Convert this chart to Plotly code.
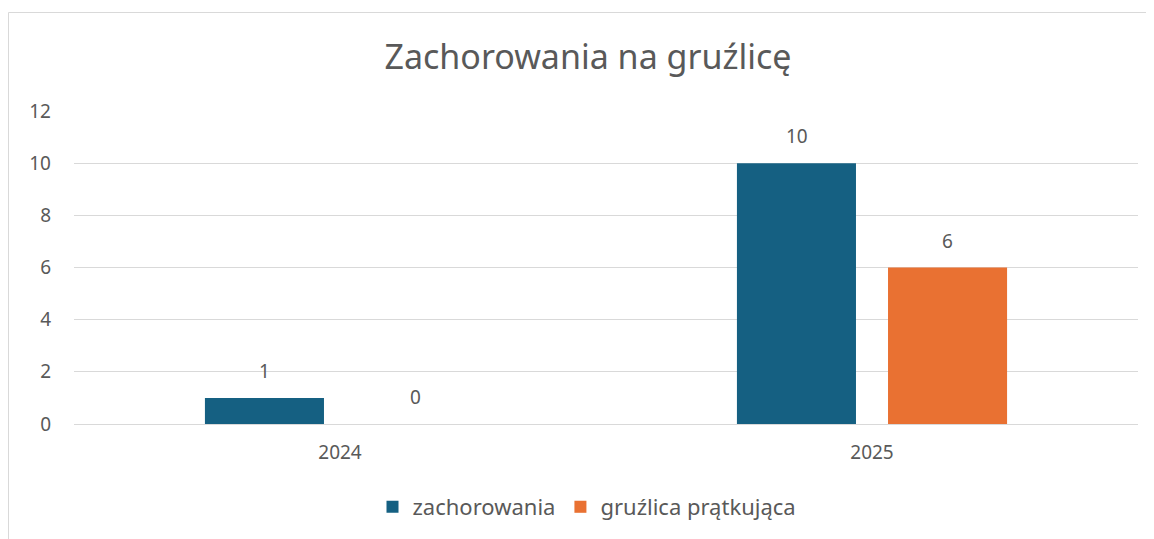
import plotly.graph_objects as go

categories = ["2024", "2025"]
zachorowania = [1, 10]
pratkujaca = [0, 6]
series_names = ["zachorowania", "gruźlica prątkująca"]
colors = ["#156082", "#E97132"]
y_ticks = [0, 2, 4, 6, 8, 10, 12]

# page has an 8px body margin, so the figure is drawn at (8, 8)
OFF = 8
W, H = 1154 - OFF, 539 - OFF
ML, MR, MT, MB = 74 - OFF, W - (1138 - OFF), 111 - OFF, H - (424 - OFF)
TXT = "#595959"
FONT = "Noto Sans"

fig = go.Figure()
for name, vals, col in zip(series_names, [zachorowania, pratkujaca], colors):
    fig.add_trace(go.Bar(x=categories, y=vals, name=name, marker_color=col,
                         marker_line_width=0, hoverinfo="skip"))

# data labels (x given as category index on the category axis)
shift = 75.5
for vals, xs in [(zachorowania, -shift), (pratkujaca, shift)]:
    for i, v in enumerate(vals):
        fig.add_annotation(x=i, y=v, text=str(v), showarrow=False, xshift=xs, yshift=27,
                           font=dict(family=FONT, size=19, color=TXT))

pw = W - ML - MR
ph = H - MT - MB
fig.add_shape(type="rect", xref="paper", yref="paper",
              x0=(0.5 - ML) / pw, x1=(W + 20 - ML) / pw,
              y0=-(MB + 40) / ph, y1=(H - MB - 4.5) / ph,
              line=dict(color="#D9D9D9", width=1), fillcolor="rgba(0,0,0,0)", layer="below")

fig.update_layout(
    width=W, height=H,
    margin=dict(l=ML, r=MR, t=MT, b=MB, autoexpand=False),
    paper_bgcolor="white", plot_bgcolor="white",
    font=dict(family=FONT, color=TXT, size=19),
    title=dict(text="Zachorowania na gruźlicę", x=(588 - OFF) / W, xanchor="center",
               y=1 - (57 - OFF) / H, yanchor="middle", font=dict(size=34, color=TXT, family=FONT)),
    barmode="group", bargap=0.432, bargroupgap=0.212,
    showlegend=True,
    legend=dict(orientation="h", x=(587 - 74) / pw, xanchor="center",
                y=(424 - 507) / ph, yanchor="middle",
                font=dict(size=22, color=TXT), itemclick=False, traceorder="normal"),
    xaxis=dict(type="category", range=[-0.5, len(categories) - 0.5], showgrid=False,
               showline=True, linecolor="#D9D9D9", linewidth=1,
               ticks="", tickfont=dict(size=19, color=TXT), ticklabelstandoff=11,
               fixedrange=True),
    yaxis=dict(range=[0, 12], tickvals=y_ticks, showgrid=True, gridcolor="#D9D9D9",
               gridwidth=1, zeroline=False, showline=False, ticks="",
               tickfont=dict(size=19, color=TXT), ticklabelstandoff=22, fixedrange=True),
)

fig.write_html("out.html", config={"displayModeBar": False})
